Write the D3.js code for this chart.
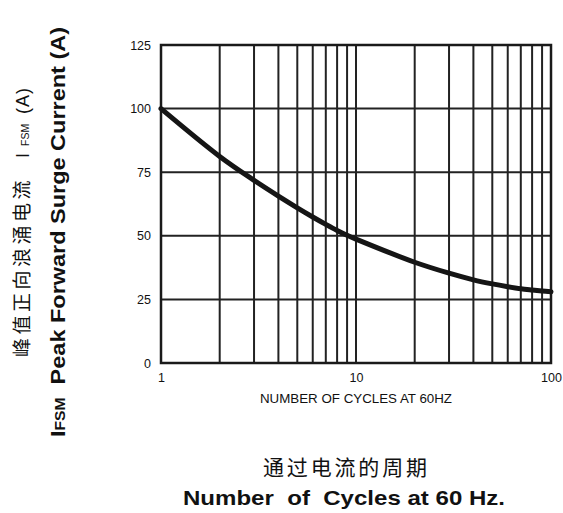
<!DOCTYPE html>
<html>
<head>
<meta charset="utf-8">
<script src="https://cdn.jsdelivr.net/npm/d3@7"></script>
<style>
  body { margin: 0; background: #fff; }
  text { font-family: "Liberation Sans", Arial, sans-serif; fill: #111; }
  .cjk { font-family: "Noto Sans CJK SC", sans-serif; }
</style>
</head>
<body>
<div id="chart"></div>
<script>
// data
var cycles  = [1, 2, 3, 4, 5, 6, 7, 8, 9, 10, 20, 30, 40, 50, 60, 70, 80, 90, 100];
var current = [100, 81.2, 71.8, 65.6, 61.0, 57.4, 54.5, 52.1, 50.2, 48.7, 39.6, 35.3, 32.7, 31.1, 30.0, 29.2, 28.7, 28.3, 28.0];
var yTicks = [0, 25, 50, 75, 100, 125];
var xTicks = [1, 10, 100];

var W = 563, H = 513;
var margin = {top: 45, right: 12, bottom: 150, left: 161};
var width  = W - margin.left - margin.right,
    height = H - margin.top - margin.bottom;

var svg = d3.select('#chart').append('svg')
	.attr('width', W)
	.attr('height', H);

var g = svg.append('g')
	.attr('transform', 'translate(' + margin.left + ',' + margin.top + ')');

var x = d3.scaleLog().domain([1, 100]).range([0, width]);
var y = d3.scaleLinear().domain([0, 125]).range([height, 0]);

// log grid: 2..9, 10, 20..90
var xGrid = [];
[1, 10].forEach(function(d) {
	for (var i = 2; i <= 9; i++) xGrid.push(d * i);
});
xGrid.push(10);

g.selectAll('.vgrid')
	.data(xGrid)
	.enter().append('line')
	.attr('x1', d => x(d)).attr('x2', d => x(d))
	.attr('y1', 0).attr('y2', height)
	.attr('stroke', '#222')
	.attr('stroke-width', 2);

g.selectAll('.hgrid')
	.data(yTicks.filter(d => d > 0 && d < 125))
	.enter().append('line')
	.attr('x1', 0).attr('x2', width)
	.attr('y1', d => y(d)).attr('y2', d => y(d))
	.attr('stroke', '#222')
	.attr('stroke-width', 2);

// frame
g.append('rect')
	.attr('width', width)
	.attr('height', height)
	.attr('fill', 'none')
	.attr('stroke', '#1a1a1a')
	.attr('stroke-width', 2.5);

// curve
var line = d3.line()
	.x((d, i) => x(cycles[i]))
	.y(d => y(d))
	.curve(d3.curveCatmullRom);

g.append('path')
	.datum(current)
	.attr('d', line)
	.attr('fill', 'none')
	.attr('stroke', '#151515')
	.attr('stroke-width', 5)
	.attr('stroke-linecap', 'round');

// axes (labels only)
var yAxis = g.append('g')
	.call(d3.axisLeft(y).tickValues(yTicks).tickSize(0).tickPadding(10));
yAxis.select('.domain').remove();
yAxis.selectAll('text')
	.style('font-size', '12.5px')
	.style('font-family', '"Liberation Sans", Arial, sans-serif');

var xAxis = g.append('g')
	.attr('transform', 'translate(0,' + height + ')')
	.call(d3.axisBottom(x).tickValues(xTicks).tickFormat(d3.format('d')).tickSize(0).tickPadding(10));
xAxis.select('.domain').remove();
xAxis.selectAll('text')
	.style('font-size', '12.5px')
	.style('font-family', '"Liberation Sans", Arial, sans-serif');

g.append('text')
	.attr('x', width / 2)
	.attr('y', height + 40)
	.attr('text-anchor', 'middle')
	.attr('textLength', 192)
	.attr('lengthAdjust', 'spacingAndGlyphs')
	.style('font-size', '13.5px')
	.text('NUMBER OF CYCLES AT 60HZ');

// bottom titles
svg.append('text')
	.attr('class', 'cjk')
	.attr('x', 345)
	.attr('y', 475)
	.attr('text-anchor', 'middle')
	.attr('textLength', 164)
	.attr('lengthAdjust', 'spacing')
	.style('font-size', '21px')
	.text('通过电流的周期');

svg.append('text')
	.attr('x', 344)
	.attr('y', 505)
	.attr('text-anchor', 'middle')
	.attr('textLength', 322)
	.attr('lengthAdjust', 'spacingAndGlyphs')
	.style('font-size', '21px')
	.style('font-weight', 'bold')
	.style('white-space', 'pre')
	.text('Number  of  Cycles at 60 Hz.');

// left titles (rotated)
var cn = svg.append('text')
	.attr('transform', 'translate(29,357) rotate(-90)');
cn.append('tspan').attr('x', 0).attr('class', 'cjk')
	.style('font-size', '19px').style('letter-spacing', '3.5px').text('峰值正向浪涌电流');
cn.append('tspan').attr('x', 199).style('font-size', '18px').text('I');
cn.append('tspan').attr('x', 211).style('font-size', '10.5px').text('FSM');
cn.append('tspan').attr('x', 243).style('font-size', '18px').style('letter-spacing', '1px').text('(A)');

var en = svg.append('text')
	.attr('transform', 'translate(65,232) rotate(-90)')
	.attr('text-anchor', 'middle')
	.attr('textLength', 410)
	.attr('lengthAdjust', 'spacingAndGlyphs')
	.style('font-size', '21px')
	.style('font-weight', 'bold')
	.style('white-space', 'pre');
en.append('tspan').text('I');
en.append('tspan').style('font-size', '14px').text('FSM');
en.append('tspan').text('  Peak Forward Surge Current (A)');
</script>
</body>
</html>
